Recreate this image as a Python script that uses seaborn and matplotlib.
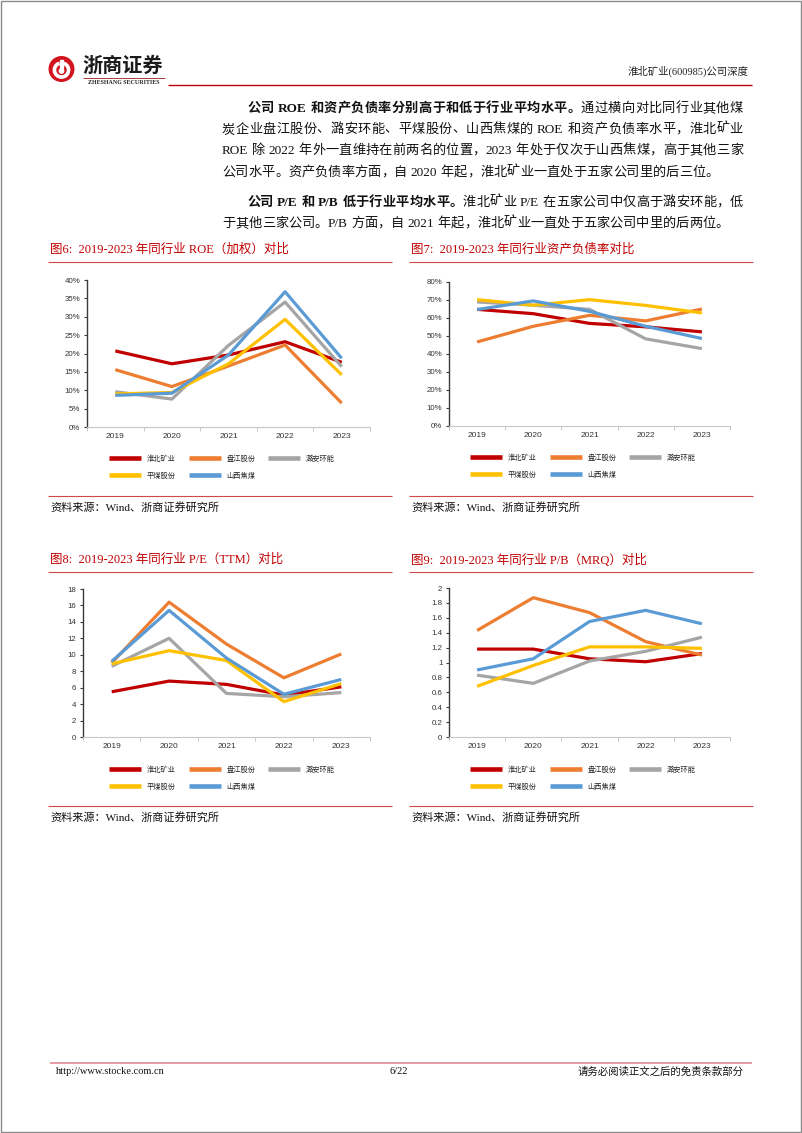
import matplotlib
matplotlib.use("Agg")
import matplotlib.pyplot as plt
from matplotlib.lines import Line2D
from matplotlib.patches import Circle, Rectangle, Wedge
from matplotlib.font_manager import FontProperties
import seaborn as sns
import pandas as pd
import numpy as np

# ---------------- data ----------------
years = [2019, 2020, 2021, 2022, 2023]
year_labels = ["2019", "2020", "2021", "2022", "2023"]
companies = ["淮北矿业", "盘江股份", "潞安环能", "平煤股份", "山西焦煤"]
palette = ["#C00000", "#ED7D31", "#A5A5A5", "#FFC000", "#5B9BD5"]

# ROE (weighted), %
roe_huaibei = [20.7, 17.2, 19.6, 23.2, 17.6]
roe_panjiang = [15.6, 11.0, 16.6, 22.3, 6.5]
roe_luan = [9.6, 7.6, 22.2, 34.0, 16.4]
roe_pingmei = [9.0, 9.4, 17.2, 29.3, 14.2]
roe_shanxi = [8.6, 9.2, 19.6, 36.8, 18.7]
roe_ticks = [0, 5, 10, 15, 20, 25, 30, 35, 40]
roe_ticklabels = ["0%", "5%", "10%", "15%", "20%", "25%", "30%", "35%", "40%"]

# Debt-to-asset ratio, %
debt_huaibei = [64.8, 62.4, 57.0, 55.1, 52.3]
debt_panjiang = [46.7, 55.4, 61.5, 58.4, 65.0]
debt_luan = [68.9, 67.1, 64.8, 48.4, 43.0]
debt_pingmei = [70.2, 67.1, 70.2, 67.0, 62.8]
debt_shanxi = [64.7, 69.5, 63.7, 55.4, 48.6]
debt_ticks = [0, 10, 20, 30, 40, 50, 60, 70, 80]
debt_ticklabels = ["0%", "10%", "20%", "30%", "40%", "50%", "60%", "70%", "80%"]

# P/E (TTM)
pe_huaibei = [5.5, 6.8, 6.4, 5.1, 6.1]
pe_panjiang = [9.0, 16.4, 11.3, 7.2, 10.1]
pe_luan = [8.6, 12.0, 5.3, 4.9, 5.4]
pe_pingmei = [8.9, 10.5, 9.3, 4.3, 6.5]
pe_shanxi = [9.2, 15.4, 9.6, 5.2, 7.0]
pe_ticks = [0, 2, 4, 6, 8, 10, 12, 14, 16, 18]
pe_ticklabels = ["0", "2", "4", "6", "8", "10", "12", "14", "16", "18"]

# P/B (MRQ)
pb_huaibei = [1.18, 1.18, 1.05, 1.01, 1.12]
pb_panjiang = [1.43, 1.87, 1.67, 1.28, 1.10]
pb_luan = [0.83, 0.72, 1.02, 1.15, 1.34]
pb_pingmei = [0.68, 0.96, 1.21, 1.21, 1.19]
pb_shanxi = [0.90, 1.05, 1.55, 1.70, 1.52]
pb_ticks = [0, 0.2, 0.4, 0.6, 0.8, 1.0, 1.2, 1.4, 1.6, 1.8, 2.0]
pb_ticklabels = ["0", "0.2", "0.4", "0.6", "0.8", "1", "1.2", "1.4", "1.6", "1.8", "2"]

titles = ["图6:  2019-2023 年同行业 ROE（加权）对比",
          "图7:  2019-2023 年同行业资产负债率对比",
          "图8:  2019-2023 年同行业 P/E（TTM）对比",
          "图9:  2019-2023 年同行业 P/B（MRQ）对比"]
source_text = "资料来源：Wind、浙商证券研究所"

para_lines = [
    [("公司 ROE 和资产负债率分别高于和低于行业平均水平。", "bold"), ("通过横向对比同行业其他煤", "normal")],
    [("炭企业盘江股份、潞安环能、平煤股份、山西焦煤的 ROE 和资产负债率水平，淮北矿业", "normal")],
    [("ROE 除 2022 年外一直维持在前两名的位置，2023 年处于仅次于山西焦煤，高于其他三家", "normal")],
    [("公司水平。资产负债率方面，自 2020 年起，淮北矿业一直处于五家公司里的后三位。", "normal")],
    [("公司 P/E 和 P/B 低于行业平均水平。", "bold"), ("淮北矿业 P/E 在五家公司中仅高于潞安环能，低", "normal")],
    [("于其他三家公司。P/B 方面，自 2021 年起，淮北矿业一直处于五家公司中里的后两位。", "normal")],
]

# ---------------- setup ----------------
sns.set_theme(style="ticks")
plt.rcParams["font.family"] = ["Liberation Sans", "Noto Sans CJK SC", "DejaVu Sans"]
plt.rcParams["lines.solid_capstyle"] = "butt"
plt.rcParams["axes.unicode_minus"] = False

W, H = 802, 1133
fig = plt.figure(figsize=(W / 100, H / 100), dpi=100)
fig.patch.set_facecolor("white")
bg = fig.add_axes([0, 0, 1, 1], zorder=0)
bg.set_xlim(0, W)
bg.set_ylim(H, 0)
bg.axis("off")
renderer = fig.canvas.get_renderer()

SERIF = ["Liberation Serif", "Noto Sans CJK SC"]
CJK = ["Noto Sans CJK SC", "Liberation Sans"]
RED = "#C00000"


def hline(x0, x1, y, color, lw):
    bg.plot([x0, x1], [y, y], color=color, lw=lw, solid_capstyle="butt")


# page border
bg.add_patch(Rectangle((0.5, 0.5), W - 2, H - 2, fill=False, ec="#8a8a8a", lw=1.0))

# ---------------- header ----------------
bg.add_patch(Circle((61.5, 69), 12.3, color="#D2141E", zorder=3))
bg.add_patch(Wedge((61.5, 70), 8.2, 292, 608, width=2.3, color="white", zorder=4))
bg.add_patch(Rectangle((60.2, 60), 2.6, 8, color="white", zorder=4))
bg.add_patch(Circle((61.5, 71), 2.2, color="white", zorder=4))
bg.text(82.5, 65.5, "浙商证券", fontsize=14.5, fontweight="bold", family=CJK,
        ha="left", va="center", color="#1a1a1a")
hline(83, 165, 78.3, "#9B1B1B", 0.6)
bg.text(124, 82.8, "ZHESHANG SECURITIES", fontsize=4.3, fontweight="bold",
        family=["Liberation Serif"], ha="center", va="center", color="#222222")
hline(168, 752, 85, RED, 1.0)
bg.text(748, 71, "淮北矿业(600985)公司深度", fontsize=7.5, family=SERIF,
        ha="right", va="center", color="#222222")


# ---------------- body text (justified) ----------------
def adv(s, fp):
    a = renderer.get_text_width_height_descent("国" + s + "国", fp, False)[0]
    b = renderer.get_text_width_height_descent("国国", fp, False)[0]
    return a - b


def body_line(runs, x0, yc, x1=None, size=9.5):
    toks = []
    for s, wt in runs:
        buf = ""
        for ch in s:
            if ch == " ":
                if buf:
                    toks.append((buf, wt)); buf = ""
                toks.append((None, wt))
            elif ord(ch) < 128:
                buf += ch
            else:
                if buf:
                    toks.append((buf, wt)); buf = ""
                toks.append((ch, wt))
        if buf:
            toks.append((buf, wt))
    em = size * 100 / 72
    yb = yc + 0.36 * em
    items = []
    for s, wt in toks:
        if s is None:
            items.append((None, 0.25 * em))
            continue
        fp = FontProperties(family=SERIF, size=size, weight=wt)
        t = bg.text(0, yb, s, fontproperties=fp, va="baseline", ha="left", color="#111111")
        items.append((t, adv(s, fp)))
    total = sum(w for _, w in items)
    gap = 0.0
    if x1 is not None and len(items) > 1:
        gap = (x1 - x0 - total) / (len(items) - 1)
    x = x0
    for t, w in items:
        if t is not None:
            t.set_x(x)
        x += w + gap


line_specs = [(247, 107, 743), (222, 128, 743), (222, 149, 743), (222, 171, None),
              (247, 201, 743), (222, 222, None)]
for runs, (x0, yc, x1) in zip(para_lines, line_specs):
    body_line(runs, x0, yc, x1)


# ---------------- charts ----------------
def chart(box, vals, ticks, ticklabels, title, tx, ty, ul, src_line, src_y, leg_cx, leg_top):
    l, t, r, b = box
    ax = fig.add_axes([l / W, 1 - b / H, (r - l) / W, (b - t) / H], zorder=2)
    ax.patch.set_alpha(0)
    df = pd.DataFrame({
        "year": np.tile(years, len(companies)),
        "company": np.repeat(companies, len(years)),
        "value": np.concatenate([np.asarray(v, dtype=float) for v in vals]),
    })
    sns.lineplot(data=df, x="year", y="value", hue="company", hue_order=companies,
                 palette=palette, linewidth=2.3, legend=False, ax=ax, sort=False,
                 errorbar=None)
    ax.set_xlim(years[0] - 0.5, years[-1] + 0.5)
    ax.set_ylim(ticks[0], ticks[-1])
    ax.set_xticks(years)
    ax.set_xticklabels(year_labels)
    ax.set_xticks(np.arange(years[0] - 0.5, years[-1] + 1.0, 1.0), minor=True)
    ax.set_yticks(ticks)
    ax.set_yticklabels(ticklabels)
    ax.set_xlabel("")
    ax.set_ylabel("")
    ax.grid(False)
    for s in ["top", "right"]:
        ax.spines[s].set_visible(False)
    ax.spines["left"].set_color("#3a3a3a")
    ax.spines["left"].set_linewidth(1.0)
    ax.spines["bottom"].set_color("#C8C8C8")
    ax.spines["bottom"].set_linewidth(0.8)
    ax.tick_params(axis="x", which="major", length=0, pad=4.5, labelsize=6, labelcolor="#333333")
    ax.tick_params(axis="x", which="minor", length=3.2, width=0.7, color="#C8C8C8", direction="out")
    ax.tick_params(axis="y", which="major", length=2.2, width=0.8, color="#3a3a3a", pad=2.6,
                   labelsize=5.7, labelcolor="#333333", direction="out")
    handles = [Line2D([0], [0], color=c, lw=3.3, solid_capstyle="butt") for c in palette]
    order = [0, 3, 1, 4, 2]
    ax.legend([handles[i] for i in order], [companies[i] for i in order],
              loc="upper center", bbox_to_anchor=(leg_cx, leg_top), bbox_transform=bg.transData,
              ncol=3, frameon=False, prop=FontProperties(family=CJK, size=5.2),
              handlelength=4.4, handletextpad=0.8, columnspacing=1.8, labelspacing=1.2,
              borderpad=0, borderaxespad=0)
    # title, rules and source
    bg.text(tx, ty, title, fontsize=9, family=SERIF, color=RED, ha="left", va="center")
    x0 = tx - 2
    x1 = x0 + 344
    hline(x0, x1, ul, "#D04848", 0.8)
    hline(x0, x1, src_line, "#D04848", 0.8)
    bg.text(tx, src_y, source_text, fontsize=8, family=SERIF, color="#111111",
            ha="left", va="center")
    return ax


chart((87, 280, 370, 427), [roe_huaibei, roe_panjiang, roe_luan, roe_pingmei, roe_shanxi],
      roe_ticks, roe_ticklabels, titles[0], 50, 250, 262, 496, 507, 222, 455)
chart((449, 282, 730, 426), [debt_huaibei, debt_panjiang, debt_luan, debt_pingmei, debt_shanxi],
      debt_ticks, debt_ticklabels, titles[1], 411, 250, 262, 496, 507, 583, 454)
chart((83, 589, 370, 737), [pe_huaibei, pe_panjiang, pe_luan, pe_pingmei, pe_shanxi],
      pe_ticks, pe_ticklabels, titles[2], 50, 560, 572, 806, 817, 222, 766)
chart((449, 588, 730, 737), [pb_huaibei, pb_panjiang, pb_luan, pb_pingmei, pb_shanxi],
      pb_ticks, pb_ticklabels, titles[3], 411, 560, 572, 806, 817, 583, 766)

# ---------------- footer ----------------
hline(50, 752, 1063, "#E08A96", 1.2)
bg.text(56, 1072, "http://www.stocke.com.cn", fontsize=7.5, family=SERIF, ha="left", va="center", color="#111111")
bg.text(399, 1072, "6/22", fontsize=7.5, family=SERIF, ha="center", va="center", color="#111111")
bg.text(744, 1072, "请务必阅读正文之后的免责条款部分", fontsize=7.5, family=SERIF, ha="right", va="center", color="#111111")

fig.savefig("out.png", dpi=100, facecolor="white")
